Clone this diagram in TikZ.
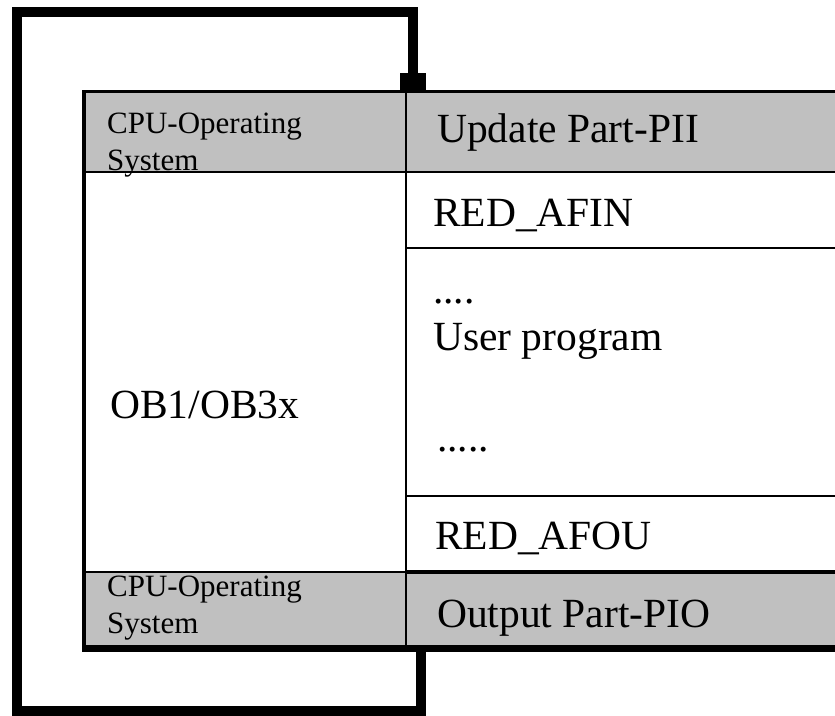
\documentclass[tikz,border=0pt]{standalone}
\usepackage{fontspec}
\setmainfont{Liberation Serif}
\usetikzlibrary{arrows.meta}
\definecolor{cellgrey}{HTML}{C0C0C0}
\tikzstyle{cell}       = [draw, line width=2pt, anchor=north west, inner sep=0, outer sep=0]
\tikzstyle{grey cell}  = [cell, fill=cellgrey]
\tikzstyle{big text}   = [anchor=base west, inner sep=0, font=\fontsize{41.5}{41.5}\selectfont]
\tikzstyle{small text} = [anchor=base west, inner sep=0, align=left, font=\fontsize{31}{37}\selectfont]
\tikzstyle{loop line}  = [line width=10pt, miter limit=4]

\begin{document}
\begin{tikzpicture}[x=1pt, y=-1pt]
\useasboundingbox (0,0) rectangle (835,715);

    % upper system row
    \node(osl)[grey cell, minimum width=322pt, minimum height=81pt] at (84,91) {};
    \node(upd)[grey cell, minimum width=434pt, minimum height=81pt] at (406,91) {};
    % OB1 column and right column rows
    \node(ob)[cell, minimum width=322pt, minimum height=400pt] at (84,172) {};
    \node(afin)[cell, minimum width=434pt, minimum height=76pt] at (406,172) {};
    \node(user)[cell, minimum width=434pt, minimum height=248pt] at (406,248) {};
    \node(afou)[cell, minimum width=434pt, minimum height=76pt] at (406,496) {};
    % lower system row
    \node(osb)[grey cell, minimum width=322pt, minimum height=76pt] at (84,572) {};
    \node(pio)[grey cell, minimum width=434pt, minimum height=76pt] at (406,572) {};

    % heavier frame lines
    \draw[line width=4pt] (osl.north west) -- (osb.south west);
    \draw[line width=3pt] ([xshift=-2pt]osl.north west) -- (upd.north east);
    \draw[line width=3.5pt] (afou.south west) -- (afou.south east);
    \draw[line width=7pt] ([xshift=-2pt]osb.south west) -- (pio.south east);

    % texts (small ones: base of the last line)
    \node(t osl)[small text] at (107,170) {CPU-Operating\\System};
    \node(t upd)[big text] at (437,142) {Update Part-PII};
    \node(t afin)[big text] at (433,226) {RED\_AFIN};
    \node(t dots a)[big text] at (433,303) {....};
    \node(t user)[big text] at (433,350) {User program};
    \node(t ob)[big text] at (110,418) {OB1/OB3x};
    \node(t dots b)[big text] at (437,451) {.....};
    \node(t afou)[big text] at (435,549) {RED\_AFOU};
    \node(t osb)[small text] at (107,633) {CPU-Operating\\System};
    \node(t pio)[big text] at (437,627) {Output Part-PIO};

    % cycle back to the top
    \coordinate (bl) at (17,711);
    \coordinate (tl) at (17,12);
    \draw[loop line, -{Rectangle[length=18pt, width=26pt]}]
        ([xshift=15pt]osb.south east) |- (bl) -- (tl) -| ([xshift=7pt]upd.north west);

\end{tikzpicture}
\end{document}
